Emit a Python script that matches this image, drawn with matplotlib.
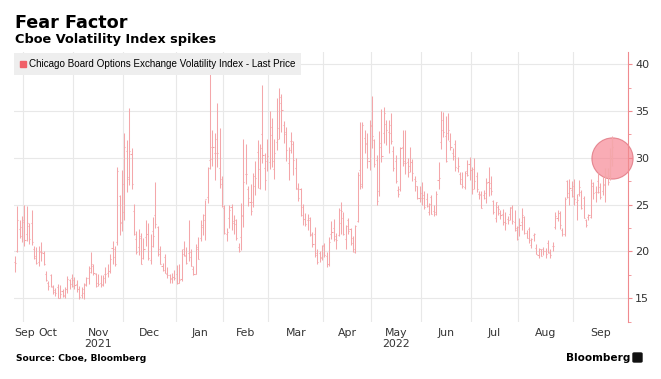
import matplotlib.pyplot as plt
import matplotlib.patches as mpatches
import numpy as np

# trading days per month, Sep 27 2021 .. Sep 26 2022
months = ["Sep", "Oct", "Nov", "Dec", "Jan", "Feb", "Mar", "Apr", "May", "Jun", "Jul", "Aug", "Sep"]
years = {"Nov": "2021", "May": "2022"}
month_days = [4, 21, 21, 22, 20, 19, 23, 20, 21, 21, 20, 23, 17]

opens = [18.9, 20.0, 22.4, 21.6,
         23.4, 21.8, 22.7, 23.0, 20.2, 19.3, 18.9, 19.9, 19.8, 17.6, 16.6, 17.5, 16.2, 15.9, 16.2, 15.0, 15.8, 15.3, 16.0, 16.9, 17.1,
         16.9, 16.5, 16.0, 15.3, 15.6, 16.4, 17.2, 18.2, 18.4, 17.6, 16.6, 16.6, 16.5, 17.6, 17.7, 17.9, 20.4, 20.2, 21.0, 25.9, 23.1,
         24.2, 30.7, 27.7, 30.4, 24.3, 21.3, 20.5, 21.4, 19.3, 21.5, 21.9, 19.1, 22.2, 23.9, 22.6, 20.2, 18.4, 19.4, 17.6, 17.5, 17.1, 17.3,
         17.6, 16.6, 17.0, 20.3, 19.5, 19.8, 19.9, 18.1, 17.6, 20.5, 21.4, 22.6, 23.4, 25.8, 29.8, 31.2, 30.5, 30.5, 28.9, 27.2,
         24.6, 21.9, 23.6, 24.7, 23.0, 23.3, 20.5, 21.5, 23.8, 28.3, 26.7, 25.3, 25.3, 27.0, 30.6, 26.8, 32.5, 28.9, 29.6,
         29.5, 32.4, 28.8, 31.7, 33.2, 35.9, 33.5, 32.7, 29.4, 31.8, 31.5, 28.9, 26.8, 26.7, 24.7, 23.5, 23.3, 23.3, 21.9, 21.9, 19.8, 19.8, 19.4,
         20.7, 19.5, 18.7, 21.9, 22.5, 21.3, 21.7, 23.0, 23.6, 21.3, 23.4, 22.4, 20.9, 19.9, 23.2, 28.7, 27.2, 32.1, 31.5, 29.6,
         33.5, 31.9, 29.8, 26.5, 31.6, 32.6, 33.6, 32.8, 33.5, 30.7, 29.7, 26.6, 26.7, 31.1, 29.6, 29.5, 29.1, 29.5, 27.7, 27.0, 25.7,
         25.7, 26.0, 25.6, 24.2, 25.8, 24.3, 24.2, 27.6, 31.7, 33.0, 32.3, 32.6, 31.8, 30.5, 31.5, 28.9, 28.3, 27.7, 26.9, 28.6, 29.3,
         28.7, 28.8, 28.0, 26.1, 26.0, 26.0, 25.7, 27.4, 27.3, 25.4, 23.6, 24.7, 24.1, 24.0, 23.1, 23.5, 24.0, 24.6, 23.1, 22.5,
         22.6, 23.1, 23.7, 22.0, 22.4, 20.7, 21.7, 20.4, 19.6, 20.2, 20.2, 20.0, 20.9, 19.8, 20.6, 22.6, 23.6, 24.1, 22.3, 21.9, 27.5, 25.8, 26.6,
         27.0, 25.3, 26.1, 26.3, 25.7, 23.3, 23.7, 23.7, 27.0, 26.3, 27.5, 26.9, 26.5, 27.1, 27.9, 28.0, 30.2]

highs = [19.5, 24.8, 23.3, 23.8,
         25.0, 24.8, 23.0, 24.4, 20.6, 20.5, 20.6, 21.0, 20.0, 17.9, 16.8, 17.6, 16.4, 16.1, 16.5, 16.4, 16.0, 16.2, 17.4, 17.0, 17.6,
         17.3, 16.9, 16.3, 16.2, 16.6, 17.3, 18.4, 19.9, 18.7, 17.7, 17.6, 17.5, 17.5, 18.3, 18.7, 19.7, 21.1, 20.6, 29.0, 26.0, 28.7,
         32.6, 31.9, 35.3, 31.0, 25.1, 22.2, 22.4, 22.0, 21.4, 23.3, 23.0, 21.9, 23.7, 27.4, 22.7, 20.6, 18.8, 19.7, 18.3, 17.6, 17.7, 18.0,
         18.5, 18.6, 20.2, 21.1, 20.5, 23.3, 20.2, 18.4, 20.8, 21.5, 23.3, 24.0, 25.5, 29.0, 38.9, 33.0, 32.6, 35.8, 33.2, 28.0,
         25.0, 22.5, 25.0, 25.1, 23.9, 23.5, 20.9, 25.2, 32.0, 31.5, 27.0, 27.2, 28.4, 29.6, 31.9, 31.5, 37.8, 30.5, 32.0,
         35.0, 34.3, 32.0, 36.4, 37.5, 36.8, 33.9, 33.3, 31.1, 32.8, 31.8, 30.0, 27.3, 26.8, 25.1, 24.1, 24.0, 23.7, 22.1, 22.6, 20.3, 20.0, 20.7,
         20.9, 19.9, 21.5, 23.2, 23.5, 22.0, 24.6, 25.3, 24.2, 22.8, 23.6, 22.5, 21.6, 22.8, 28.5, 33.8, 33.8, 33.0, 32.6, 34.0,
         36.6, 32.0, 30.3, 32.9, 35.2, 35.4, 34.0, 34.0, 34.8, 31.3, 30.3, 27.0, 31.1, 33.0, 33.0, 30.0, 31.2, 29.9, 28.0, 27.0, 27.0,
         27.4, 26.5, 26.2, 25.2, 26.0, 25.0, 26.4, 29.5, 35.0, 34.9, 34.5, 34.8, 32.6, 31.0, 31.9, 30.1, 28.5, 28.5, 28.6, 29.8, 30.1,
         29.0, 30.0, 28.5, 26.4, 26.4, 26.6, 27.8, 29.0, 28.0, 25.5, 25.3, 25.0, 24.4, 24.5, 24.2, 23.8, 24.7, 24.9, 24.4, 22.7,
         23.6, 24.6, 23.8, 22.3, 22.6, 21.4, 22.0, 20.8, 20.4, 20.3, 20.5, 20.4, 21.2, 20.2, 21.0, 24.2, 24.4, 24.3, 22.5, 25.8, 27.6, 27.7, 27.5,
         27.7, 26.1, 27.6, 26.6, 25.9, 23.5, 24.0, 27.7, 27.4, 27.0, 28.4, 27.3, 28.0, 28.9, 28.9, 31.0, 32.3]

lows = [17.8, 19.9, 21.4, 21.0,
        20.6, 21.1, 20.8, 20.7, 19.2, 18.7, 18.4, 19.0, 18.5, 16.8, 15.9, 16.2, 15.4, 15.2, 15.0, 15.0, 15.1, 15.0, 15.5, 16.0, 16.2,
        16.0, 15.7, 14.9, 15.0, 14.9, 16.3, 16.5, 17.7, 17.5, 16.2, 16.3, 16.2, 16.3, 16.6, 17.3, 17.7, 18.7, 18.4, 20.7, 21.7, 22.2,
        23.4, 26.3, 27.1, 26.7, 21.7, 19.7, 19.6, 18.7, 19.2, 20.6, 19.1, 18.6, 20.5, 22.5, 19.5, 18.6, 17.9, 17.7, 17.2, 16.6, 16.6, 16.9,
        16.5, 16.6, 16.8, 19.5, 18.6, 19.0, 18.4, 17.5, 17.6, 19.2, 21.1, 21.7, 21.2, 25.2, 28.8, 29.1, 27.6, 29.0, 26.8, 24.7,
        21.8, 21.1, 22.5, 22.3, 21.9, 21.2, 19.9, 20.1, 22.6, 27.2, 24.8, 23.9, 24.7, 26.0, 26.8, 26.7, 29.4, 26.6, 28.6,
        28.8, 29.0, 27.7, 30.8, 32.0, 32.7, 31.6, 29.6, 27.6, 30.5, 28.2, 26.7, 25.4, 23.8, 22.8, 22.7, 22.3, 21.6, 20.5, 19.4, 18.7, 18.9, 19.1,
        19.4, 18.3, 18.4, 21.3, 21.1, 20.3, 21.6, 21.9, 21.7, 20.2, 21.9, 20.7, 19.9, 19.8, 23.1, 26.7, 26.8, 30.5, 28.9, 28.7,
        31.0, 29.0, 25.0, 25.9, 29.5, 31.6, 31.4, 30.5, 31.5, 28.6, 27.3, 25.8, 26.4, 29.1, 28.3, 27.9, 28.5, 27.5, 26.5, 25.6, 25.3,
        24.9, 24.5, 24.7, 23.9, 24.0, 23.8, 23.9, 26.7, 30.9, 32.2, 29.5, 31.9, 30.8, 29.8, 28.6, 28.5, 27.2, 26.8, 26.7, 28.0, 27.6,
        26.1, 26.7, 26.3, 25.6, 24.6, 25.6, 25.2, 25.9, 26.0, 24.0, 23.1, 23.9, 23.5, 22.8, 22.3, 22.9, 23.4, 22.9, 22.2, 21.2,
        21.6, 22.3, 21.9, 21.4, 20.9, 20.4, 21.1, 19.7, 19.3, 19.5, 19.6, 19.3, 19.8, 19.3, 20.0, 22.4, 23.2, 22.4, 21.6, 21.6, 25.7, 24.9, 25.8,
        25.0, 23.4, 25.9, 24.5, 23.6, 22.6, 23.3, 23.6, 25.6, 25.3, 26.2, 25.6, 26.0, 25.3, 27.1, 27.6, 29.1]

closes = [18.8, 23.3, 22.6, 23.1,
          21.2, 23.0, 21.3, 21.0, 19.5, 18.8, 20.0, 19.9, 18.6, 16.9, 16.3, 16.3, 15.7, 15.5, 15.0, 15.4, 15.2, 16.0, 17.0, 16.5, 16.3,
          16.4, 16.0, 15.1, 16.0, 16.5, 17.2, 17.8, 18.7, 17.7, 16.3, 16.5, 16.4, 17.1, 17.6, 17.9, 19.2, 19.4, 18.6, 28.6, 23.0, 27.2,
          31.1, 27.9, 30.7, 27.2, 21.9, 19.9, 21.6, 18.7, 20.3, 21.9, 19.3, 20.6, 21.6, 22.9, 19.7, 18.6, 18.0, 17.7, 17.5, 17.0, 17.3, 17.2,
          16.6, 16.9, 19.7, 19.6, 18.8, 19.4, 18.4, 17.6, 20.3, 19.2, 22.8, 23.9, 25.6, 28.9, 29.9, 31.2, 32.0, 30.5, 27.7, 24.8,
          22.0, 22.1, 24.4, 23.2, 22.9, 21.4, 20.0, 23.9, 27.4, 28.3, 25.7, 24.3, 28.1, 27.8, 28.8, 31.0, 30.3, 27.6, 30.2,
          33.3, 29.6, 30.5, 32.0, 36.5, 35.1, 32.5, 30.8, 30.8, 31.8, 29.8, 26.7, 25.7, 23.9, 23.5, 22.9, 23.6, 21.7, 20.8, 19.6, 18.9, 19.3, 20.6,
          19.6, 18.6, 21.0, 22.1, 21.6, 21.2, 24.4, 24.3, 21.8, 22.7, 22.2, 21.4, 20.3, 22.7, 28.2, 27.0, 33.5, 31.6, 30.0, 33.4,
          32.3, 29.3, 25.4, 31.2, 30.2, 34.8, 33.0, 32.6, 31.8, 28.9, 27.5, 26.1, 31.0, 29.4, 29.4, 28.5, 29.5, 28.4, 27.5, 25.7, 26.2,
          25.7, 24.7, 24.8, 25.1, 24.0, 24.0, 26.1, 27.8, 34.0, 32.7, 29.6, 33.0, 31.1, 30.2, 29.0, 29.1, 27.2, 27.0, 28.4, 28.2, 28.7,
          26.7, 27.5, 26.7, 26.1, 24.6, 26.2, 27.3, 26.8, 26.4, 24.2, 25.3, 24.5, 23.9, 23.1, 23.0, 23.4, 24.7, 23.2, 22.3, 21.3,
          22.8, 23.9, 22.0, 21.4, 21.2, 21.3, 21.8, 19.7, 20.2, 19.5, 20.0, 19.7, 19.9, 19.6, 20.6, 23.8, 24.1, 22.8, 21.8, 25.6, 26.2, 26.8, 25.9,
          25.6, 25.5, 26.9, 24.6, 23.6, 22.8, 23.9, 27.3, 26.2, 26.3, 26.3, 25.8, 27.2, 28.0, 27.4, 29.9, 31.2]

highlight_value = 30

BAR = '#f4a7aa'
GRID = '#e8e8e8'
AXIS_RED = '#f08a8f'

fig = plt.figure(figsize=(6.61, 3.79), dpi=100)
ax = fig.add_axes([14/661, 1-322/379, 614/661, 270/379])

x = np.arange(len(highs))
ax.vlines(x, lows, highs, color=BAR, lw=0.75, zorder=3)
ax.hlines(opens, x-0.45, x, color=BAR, lw=0.75, zorder=3)
ax.hlines(closes, x, x+0.45, color=BAR, lw=0.75, zorder=3)

ax.scatter([x[-1]], [highlight_value], s=880, color='#f7808e', alpha=0.65,
           edgecolor='#d9606c', linewidth=0.8, zorder=2, clip_on=False)

xmin, xmax = -0.4, 257.6
ax.set_xlim(xmin, xmax)
ax.set_ylim(12.45, 41.3)

# month boundaries -> gridlines, labels centred in each month
bounds = np.concatenate([[xmin], np.cumsum(month_days)[:-1] - 0.5, [xmax]])
ax.set_xticks(bounds[1:-1], minor=True)
mids = (bounds[:-1] + bounds[1:]) / 2
mids[0] = xmin + 0.3  # first partial month label starts at the axis edge
labels = [m + ("\n" + years[m] if m in years else "") for m in months]
ax.set_xticks(mids, labels)
ax.get_xticklabels()[0].set_ha('left')
ax.tick_params(axis='x', which='both', length=0, pad=4, labelsize=7.8, labelcolor='#333333')
ax.grid(True, axis='x', which='minor', color=GRID, lw=0.8)

ax.yaxis.tick_right()
ax.set_yticks([15, 20, 25, 30, 35, 40])
ax.set_yticks(np.arange(12.5, 41, 5), minor=True)
ax.tick_params(axis='y', which='major', length=3, color=AXIS_RED, labelsize=8, labelcolor='#333333', pad=2)
ax.tick_params(axis='y', which='minor', length=2, color=AXIS_RED)
ax.grid(True, axis='y', which='major', color=GRID, lw=0.8)
ax.set_axisbelow(True)

for s in ['left', 'top', 'bottom']:
    ax.spines[s].set_visible(False)
ax.spines['right'].set_color(AXIS_RED)

handle = mpatches.Patch(color='#f06068')
leg = ax.legend([handle], ["Chicago Board Options Exchange Volatility Index - Last Price"],
                loc='upper left', bbox_to_anchor=(0, 0.995),
                prop={'family': 'Liberation Sans', 'size': 7.1},
                handlelength=0.6, handleheight=0.6, handletextpad=0.3,
                borderpad=0.6, borderaxespad=0, frameon=True, fancybox=False)
leg.get_frame().set_facecolor('#eeeeee')
leg.get_frame().set_edgecolor('none')
leg.get_frame().set_alpha(1)

fig.text(15/661, 1-28/379, "Fear Factor", fontsize=12.7, fontweight='bold', va='baseline')
fig.text(15/661, 1-43/379, "Cboe Volatility Index spikes", fontsize=9.3, fontweight='bold', va='baseline')
fig.text(16/661, 1-361/379, "Source: Cboe, Bloomberg", fontsize=6.6, fontweight='bold', va='baseline')
fig.text(630/661, 1-361/379, "Bloomberg", fontsize=7.6, fontweight='bold', va='baseline', ha='right')
fig.patches.append(mpatches.FancyBboxPatch((633/661, 1-362/379), 9/661, 9/379,
                   boxstyle='round,pad=0,rounding_size=0.002', color='#111111',
                   transform=fig.transFigure, figure=fig))

fig.savefig("out.png", dpi=100)
